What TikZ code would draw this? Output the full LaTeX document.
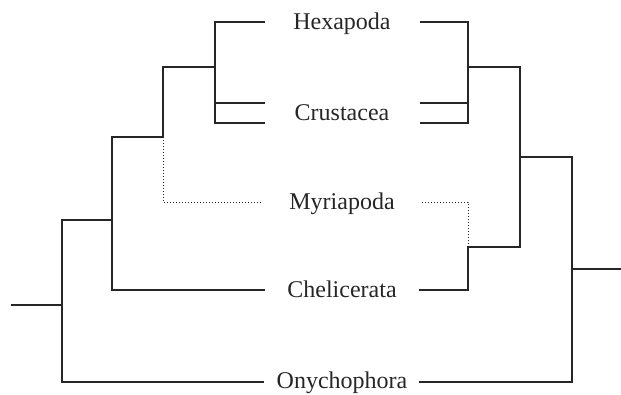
\documentclass[tikz,border=0pt]{standalone}
\usepackage{fontspec}
\setmainfont{Liberation Serif}
\usetikzlibrary{positioning, calc}

\tikzset{
  branch/.style={line width=1.2pt, black!85},
  guess/.style={line width=1pt, black!85, dotted},
  taxon/.style={font=\fontsize{24}{28}\selectfont, text=black!85, anchor=base, inner sep=0pt}
}

\begin{document}
\begin{tikzpicture}[x=1pt, y=-1pt]

\useasboundingbox (0,0) rectangle (621,394);

% Taxa in the middle
\node[taxon] (hexa)  at (342,29.5)  {Hexapoda};
\node[taxon] (crus)  at (342,120)  {Crustacea};
\node[taxon] (myria) at (342,209)  {Myriapoda};
\node[taxon] (chel)  at (342,297)  {Chelicerata};
\node[taxon] (onych) at (342,388)  {Onychophora};

% Tips, left side
\coordinate (hexaL)  at (265,22);
\coordinate (crusAL) at (265,103);
\coordinate (crusBL) at (265,123);
\coordinate (myriaL) at (262,202);
\coordinate (chelL)  at (265,290);
\coordinate (onychL) at (264,382);

% Tips, right side
\coordinate (hexaR)  at (420,22);
\coordinate (crusAR) at (420,103);
\coordinate (crusBR) at (420,123);
\coordinate (myriaR) at (420,202);
\coordinate (chelR)  at (419,290);
\coordinate (onychR) at (419,382);

% Inner nodes, left tree
\coordinate (lpan)  at (215,67);
\coordinate (lmand) at (163,137);
\coordinate (larth) at (112,220);
\coordinate (lroot) at (62,305);
\coordinate (lstem) at (11,305);

% Inner nodes, right tree
\coordinate (rpan)  at (468,67);
\coordinate (rtetra) at (520,157);
\coordinate (rmyc)  at (468,247);
\coordinate (rroot) at (572,269);
\coordinate (rstem) at (621,269);

% Left tree
\draw[branch] (hexaL) -| (lpan) |- (crusBL);
\draw[branch] (crusAL) -- (crusAL -| lpan);
\draw[branch] (lpan) -| (lmand) -| (larth) |- (chelL);
\draw[guess] (lmand) |- (myriaL);
\draw[branch] (larth) -| (lroot) |- (onychL);
\draw[branch] (lroot) -- (lstem);

% Right tree
\draw[branch] (hexaR) -| (rpan) |- (crusBR);
\draw[branch] (crusAR) -- (crusAR -| rpan);
\draw[branch] (rpan) -| (rtetra) |- (rmyc) |- (chelR);
\draw[guess] (rmyc) |- (myriaR);
\draw[branch] (rtetra) -| (rroot) |- (onychR);
\draw[branch] (rroot) -- (rstem);

\end{tikzpicture}
\end{document}
